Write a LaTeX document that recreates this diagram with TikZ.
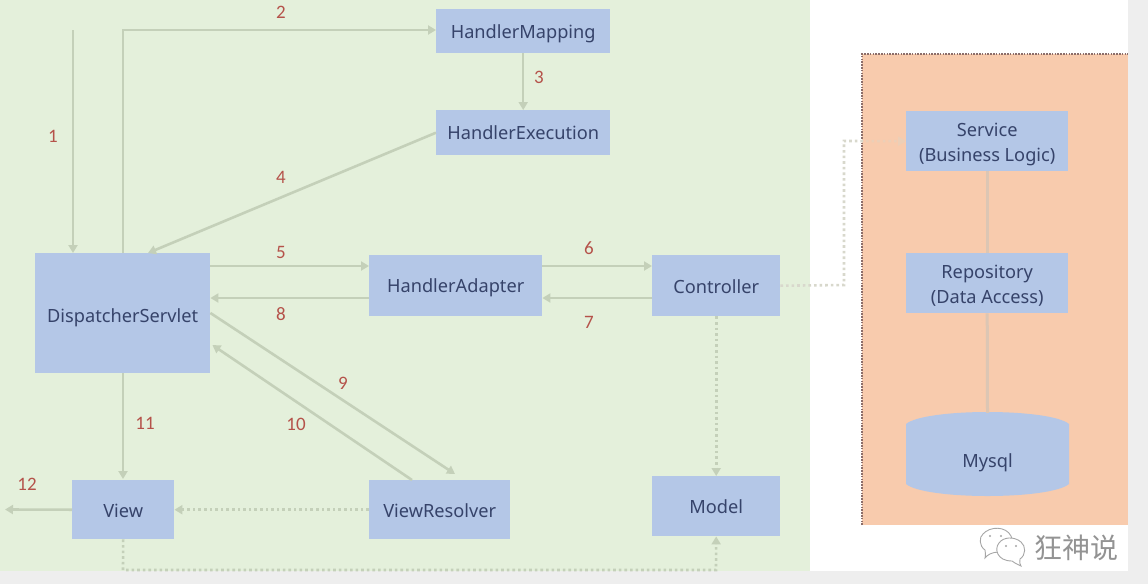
\documentclass[tikz,border=0pt]{standalone}
\usepackage{fontspec}
\setmainfont{Noto Sans}
\newfontfamily\numfont{Carlito}
\newfontfamily\cjkfont{Noto Sans CJK SC}
\usetikzlibrary{arrows.meta,calc,shapes.geometric}
\definecolor{pagegray}{HTML}{EEEEEE}
\definecolor{greenbg}{HTML}{E4F0DB}
\definecolor{orangebg}{HTML}{F8CBAD}
\definecolor{boxblue}{HTML}{B4C7E7}
\definecolor{inktext}{HTML}{36436A}
\definecolor{linkgray}{HTML}{C4D0B9}
\definecolor{linkpeach}{HTML}{D8D8CC}
\definecolor{stackline}{HTML}{DCC6B4}
\definecolor{numred}{HTML}{B5524A}
\definecolor{edgedot}{HTML}{8C6E6A}
\tikzset{
  comp/.style={draw=none,fill=boxblue,text=inktext,font=\fontsize{18.2}{25}\selectfont,align=center,inner sep=0pt,anchor=north west},
  flow/.style={draw=linkgray,line width=2.6pt,-{Triangle[length=8pt,width=9pt]}},
  dotflow/.style={draw=linkgray,line width=2.6pt,dash pattern=on 2.6pt off 3pt,-{Triangle[length=8pt,width=9pt]}},
  stepnum/.style={text=numred,font=\numfont\fontsize{19}{20}\selectfont,inner sep=0pt},
  bubble/.style={draw=gray!70,fill=white,line width=0.9pt}
}
\newcommand{\lowered}[2]{\rule{0pt}{\dimexpr 13.5pt+#1pt+#1pt\relax}#2}
\begin{document}
\begin{tikzpicture}[x=1pt,y=-1pt]
\useasboundingbox (0,0) rectangle (1148,584);
\fill[pagegray] (0,0) rectangle (1148,584);
\fill[white] (0,0) rectangle (1128,571);
\fill[greenbg] (0,0) rectangle (810,571);
\fill[orangebg] (862,54) rectangle (1128,525);
\draw[edgedot,line width=2.2pt,dash pattern=on 1.6pt off 1.2pt] (862,525) -- (862,54) -- (1128,54);

% components
\node[comp,minimum width=174pt,minimum height=44pt] (hm) at (436,9) {\lowered{3}{HandlerMapping}};
\node[comp,minimum width=174pt,minimum height=45pt] (he) at (436,110) {HandlerExecution};
\node[comp,minimum width=175pt,minimum height=120pt] (ds) at (35,253) {\lowered{5}{DispatcherServlet}};
\node[comp,minimum width=173pt,minimum height=61pt] (ha) at (369,255) {\lowered{2}{HandlerAdapter}};
\node[comp,minimum width=128pt,minimum height=61pt] (ct) at (652,255) {\lowered{1}{Controller}};
\node[comp,minimum width=102pt,minimum height=59pt] (vw) at (72,480) {\lowered{1}{View}};
\node[comp,minimum width=141pt,minimum height=59pt] (vr) at (369,480) {\lowered{1}{ViewResolver}};
\node[comp,minimum width=128pt,minimum height=60pt] (md) at (652,476) {\lowered{1}{Model}};
\node[comp,minimum width=162pt,minimum height=60pt] (sv) at (906,111) {\lowered{3}{Service}\\(Business Logic)};
\node[comp,minimum width=162pt,minimum height=60pt] (rp) at (906,253) {\lowered{2}{Repository}\\(Data Access)};
\fill[boxblue] (906,424) .. controls (925,408) and (1050,408) .. (1069,424) -- (1069,484) .. controls (1050,500) and (925,500) .. (906,484) -- cycle;
\node[text=inktext,font=\fontsize{18.2}{25}\selectfont,inner sep=0pt,minimum width=163pt,minimum height=82pt] (db) at (987.5,454) {\lowered{9}{Mysql}};

% free ends
\coordinate (start1) at (73,30);
\coordinate (exit12) at (5,509.5);

% solid connectors
\draw[flow] (start1) -- (start1 |- ds.north);
\draw[flow] ($(ds.north west)+(88,0)$) |- (hm.west |- 0,30);
\draw[flow,line width=1.8pt] (hm.south) -- (he.north);
\draw[flow] (he.west) -- ($(ds.north west)+(113,0)$);
\draw[flow] ($(ds.north east)+(0,13)$) -- ($(ha.north west)+(0,11)$);
\draw[flow] ($(ha.north west)+(0,43)$) -- ($(ds.north east)+(0,45)$);
\draw[flow] ($(ha.north east)+(0,11)$) -- ($(ct.north west)+(0,11)$);
\draw[flow] ($(ct.north west)+(0,43)$) -- ($(ha.north east)+(0,43)$);
\draw[flow] ($(ds.north east)+(0,60)$) -- ($(vr.north west)+(86,-6)$);
\draw[flow] ($(vr.north west)+(43,0)$) -- ($(ds.north east)+(2,92)$);
\draw[flow] ($(ds.south west)+(88,0)$) -- ($(vw.north west)+(51,-1)$);
\draw[flow] (vw.west) -- (exit12);

% dotted connectors
\draw[dotflow] (vr.west) -- (vw.east);
\draw[dotflow] (ct.south) -- (ct.south |- md.north);
\draw[dotflow] (vw.south) -- (123,570) -- (716,570) -- (md.south);
\draw[dotflow,draw=linkpeach] (ct.east) -- (844,285) -- (844,141) -- (sv.west);
\fill[orangebg,opacity=.65] (864,132) rectangle (905.5,150);

% service stack
\draw[draw=stackline,line width=3pt] (sv.south) -- (rp.north);
\draw[draw=stackline,line width=3pt] (rp.south) -- (db.north);

% step numbers
\node[stepnum] (n1) at (53,136) {1};
\node[stepnum] (n2) at (281,12) {2};
\node[stepnum] (n3) at (539,77) {3};
\node[stepnum] (n4) at (281,177) {4};
\node[stepnum] (n5) at (281,252) {5};
\node[stepnum] (n6) at (589,248) {6};
\node[stepnum] (n7) at (589,322) {7};
\node[stepnum] (n8) at (281,314) {8};
\node[stepnum] (n9) at (343,383) {9};
\node[stepnum] (n10) at (296,424) {10};
\node[stepnum] (n11) at (145,423) {11};
\node[stepnum] (n12) at (27,484) {12};

% wechat mark
\draw[bubble] (999,552) .. controls (992,552) and (987,555) .. (985,558) .. controls (986,554) and (985,552) .. (985,550) .. controls (979,546) and (979,537) .. (983,534) .. controls (990,526) and (1006,526) .. (1011,536) .. controls (1014,542) and (1012,548) .. (1006,552) -- cycle;
\draw[bubble] (1012,561) .. controls (1016,564) and (1019,565) .. (1021,566) .. controls (1020,564) and (1019,562) .. (1020,559) .. controls (1026,555) and (1026,546) .. (1021,542) .. controls (1014,536) and (1003,537) .. (999,543) .. controls (994,549) and (997,561) .. (1012,561) -- cycle;
\fill[gray!70] (990,536) circle (1.2pt) (1001,536) circle (1.2pt) (1006,546) circle (1.1pt) (1016,546) circle (1.1pt);
\node[text=gray!85,font=\cjkfont\fontsize{28}{30}\selectfont,inner sep=0pt] (brand) at (1076,548) {狂神说};
\end{tikzpicture}
\end{document}
